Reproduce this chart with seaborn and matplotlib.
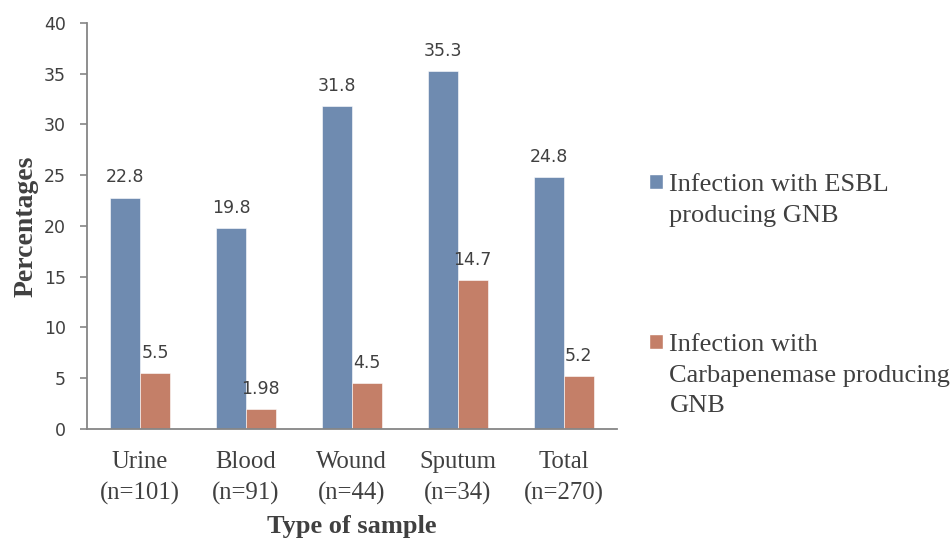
import pandas as pd
import matplotlib.pyplot as plt
import seaborn as sns
from matplotlib.patches import Patch

# Datos
muestras = ['Urine\n(n=101)', 'Blood\n(n=91)', 'Wound\n(n=44)', 'Sputum\n(n=34)', 'Total\n(n=270)']
esbl = [22.8, 19.8, 31.8, 35.3, 24.8]
carba = [5.5, 1.98, 4.5, 14.7, 5.2]
etiquetas_esbl = ['22.8', '19.8', '31.8', '35.3', '24.8']
etiquetas_carba = ['5.5', '1.98', '4.5', '14.7', '5.2']
series = ['ESBL', 'Carbapenemase']
leyenda_esbl = ['Infection with ESBL', 'producing GNB']
leyenda_carba = ['Infection with', 'Carbapenemase producing', 'GNB']

df = pd.DataFrame({
    'muestra': muestras * 2,
    'valor': esbl + carba,
    'serie': [series[0]] * len(muestras) + [series[1]] * len(muestras),
})

sns.set_theme(style="white")
serif = ['Liberation Serif', 'DejaVu Serif']
sans = ['DejaVu Sans']
gris_texto = '#404040'
gris_eje = '#868686'
colores = {'ESBL': '#6F8BB0', 'Carbapenemase': '#C47F68'}

fig = plt.figure(figsize=(9.51, 5.4), dpi=100)
ax = fig.add_axes([0.0915, 0.2056, 0.557, 0.7518])

sns.barplot(data=df, x='muestra', y='valor', hue='serie', palette=colores,
            width=0.566, gap=0, saturation=1, edgecolor='white', linewidth=0.4,
            legend=False, ax=ax)

# Etiquetas de datos
for cont, labels in zip(ax.containers, [etiquetas_esbl, etiquetas_carba]):
    ax.bar_label(cont, labels=labels, padding=8, fontsize=12.5, color=gris_texto, family=sans)

ax.set_ylim(0, 40)
ax.set_yticks(range(0, 41, 5))
ax.set_xlim(-0.5, len(muestras) - 0.5)

for lado in ['top', 'right']:
    ax.spines[lado].set_visible(False)
for lado in ['left', 'bottom']:
    ax.spines[lado].set_color(gris_eje)
    ax.spines[lado].set_linewidth(1.3)

ax.tick_params(axis='y', which='major', left=True, length=5, width=1.2, color=gris_eje,
               labelsize=12.5, labelcolor=gris_texto, pad=10)
ax.tick_params(axis='x', bottom=False, length=0, labelsize=17.8, labelcolor=gris_texto, pad=16)
for t in ax.get_yticklabels():
    t.set_family(sans)
for t in ax.get_xticklabels():
    t.set_family(serif)
    t.set_linespacing(1.5)

ax.set_xlabel('Type of sample', family=serif, fontsize=19, fontweight='bold', color=gris_texto)
ax.set_ylabel('Percentages', family=serif, fontsize=20, fontweight='bold', color=gris_texto)
ax.xaxis.set_label_coords(0.5, -0.213)
ax.yaxis.set_label_coords(-0.092, 0.5)

# Leyenda: dos bloques para que el cuadrado quede junto a la primera línea
vacio = Patch(facecolor='none', edgecolor='none')
opciones = dict(loc='upper left', frameon=False, handlelength=0.52, handleheight=0.52,
                handletextpad=0.25, labelspacing=0.33, borderpad=0, borderaxespad=0,
                bbox_transform=fig.transFigure, prop={'family': serif, 'size': 19})
leg1 = fig.legend([Patch(facecolor=colores['ESBL'])] + [vacio] * (len(leyenda_esbl) - 1),
                  leyenda_esbl, bbox_to_anchor=(0.6825, 0.678), **opciones)
leg2 = fig.legend([Patch(facecolor=colores['Carbapenemase'])] + [vacio] * (len(leyenda_carba) - 1),
                  leyenda_carba, bbox_to_anchor=(0.6825, 0.382), **opciones)
for leg in (leg1, leg2):
    for t in leg.get_texts():
        t.set_color(gris_texto)

plt.savefig('out.png', dpi=100)
